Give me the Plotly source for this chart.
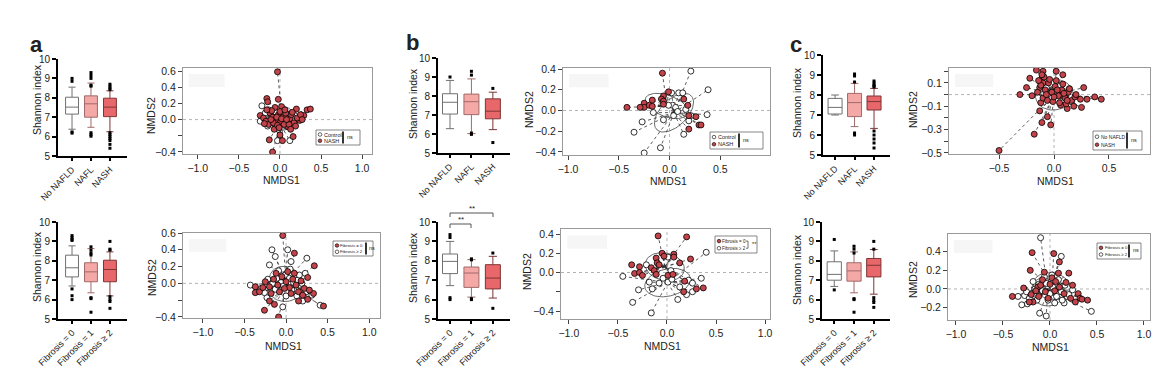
import numpy as np
import plotly.graph_objects as go

W, H = 1176, 367
FONT = "Liberation Sans, Arial, sans-serif"


def px(x):
    return x / W


def py(y):
    return 1 - y / H


# ---------------- DATA ----------------
labels_nafld = ["No NAFLD", "NAFL", "NASH"]
labels_fib = ["Fibrosis = 0", "Fibrosis = 1", "Fibrosis ≥ 2"]

# box statistics (Shannon index)  [group0, group1, group2]
a_top_q1 = [7.16, 7.00, 7.03]
a_top_med = [7.52, 7.69, 7.52]
a_top_q3 = [8.03, 8.10, 7.98]
a_top_lo = [6.38, 6.48, 6.25]
a_top_hi = [8.55, 8.76, 8.36]
a_top_out = [[9.0, 8.85, 6.24, 6.18],
             [9.3, 9.15, 9.0, 8.65, 8.6, 6.2, 6.1, 6.02],
             [8.7, 8.6, 8.5, 8.42, 6.2, 6.1, 6.0, 5.9, 5.8, 5.6, 5.4]]

a_bot_q1 = [7.17, 6.92, 6.92]
a_bot_med = [7.64, 7.43, 7.55]
a_bot_q3 = [8.29, 7.90, 8.03]
a_bot_lo = [6.70, 6.35, 6.19]
a_bot_hi = [8.77, 8.63, 8.46]
a_bot_out = [[9.3, 9.2, 9.1, 9.05, 6.55, 6.2, 6.0],
             [8.72, 8.55, 8.4, 8.3, 6.1, 6.05, 5.35],
             [9.0, 8.6, 8.55, 6.15, 6.0, 5.9, 5.55]]

b_top_q1 = [7.05, 7.02, 6.80]
b_top_med = [7.67, 7.70, 7.20]
b_top_q3 = [8.12, 8.10, 7.85]
b_top_lo = [6.28, 6.02, 6.23]
b_top_hi = [8.82, 8.90, 8.20]
b_top_out = [[9.0], [9.3, 9.1, 5.98, 6.05], [8.4, 5.55]]

b_bot_q1 = [7.34, 6.63, 6.55]
b_bot_med = [7.97, 7.37, 7.11]
b_bot_q3 = [8.35, 7.68, 7.80]
b_bot_lo = [6.72, 6.13, 6.08]
b_bot_hi = [9.00, 8.06, 8.23]
b_bot_out = [[9.35, 9.2, 6.1, 6.0], [8.1, 8.05, 6.05, 6.0], [8.4, 5.55]]

c_top_q1 = [7.05, 6.92, 7.25]
c_top_med = [7.38, 7.62, 7.67]
c_top_q3 = [7.83, 8.08, 7.95]
c_top_lo = [7.00, 6.42, 6.33]
c_top_hi = [8.00, 8.58, 8.33]
c_top_out = [[], [9.05, 8.95, 8.65, 6.1, 6.0],
             [8.7, 8.6, 8.5, 8.45, 8.4, 6.2, 6.0, 5.8, 5.6, 5.35]]

c_bot_q1 = [7.00, 6.95, 7.17]
c_bot_med = [7.30, 7.48, 7.77]
c_bot_q3 = [7.95, 7.90, 8.12]
c_bot_lo = [6.68, 6.35, 6.28]
c_bot_hi = [8.51, 8.46, 8.58]
c_bot_out = [[9.1, 6.5], [8.75, 8.6, 8.4, 6.05, 6.0, 5.35],
             [9.0, 8.6, 6.1, 5.95, 5.85, 5.6]]

# NMDS ordinations (open = first legend group, filled = second)
a_top_ctrl_x = [-0.22, -0.14, -0.24, 0.12, -0.03, -0.18, -0.10, -0.05, 0.05, 0.10, 0.15, -0.12, -0.06, 0.02, 0.08, -0.15, 0.18, 0.00, -0.02, 0.12]
a_top_ctrl_y = [0.17, 0.12, -0.02, -0.26, -0.26, 0.08, 0.05, 0.09, 0.06, 0.03, 0.00, -0.03, -0.06, -0.04, -0.08, -0.08, 0.05, 0.02, -0.12, 0.07]
a_top_nash_x = [-0.03, -0.02, -0.16, -0.15, -0.06, 0.02, 0.20, 0.33, 0.37, 0.29, 0.24, -0.24, 0.10, -0.07, 0.00, 0.16, -0.13, 0.03, -0.09,
                -0.20, -0.17, -0.12, -0.09, -0.05, -0.02, 0.01, 0.04, 0.07, 0.09, 0.12, 0.14, 0.17, 0.21, 0.25, -0.14, -0.08, -0.03,
                0.05, 0.11, -0.19, -0.10, 0.00, 0.06, 0.15, -0.04, 0.02, 0.08, -0.11, 0.19, -0.01, 0.27, 0.13, -0.16]
a_top_nash_y = [0.59, 0.25, 0.26, 0.22, 0.15, 0.16, 0.13, 0.12, 0.13, 0.05, -0.01, 0.05, -0.09, -0.12, -0.19, -0.21, -0.25, -0.26, -0.40,
                0.02, -0.02, 0.08, 0.03, 0.00, 0.06, -0.02, 0.03, 0.08, -0.03, 0.01, 0.06, -0.04, 0.02, 0.06, -0.06, -0.04, -0.07,
                -0.06, -0.06, -0.05, 0.11, 0.10, 0.12, 0.09, 0.03, 0.01, 0.00, 0.00, -0.08, -0.10, 0.00, -0.12, 0.12]

a_bot_f0_x = [-0.04, 0.10, 0.34, 0.26, -0.37, -0.37, -0.32, -0.20, -0.14, -0.26, -0.09, 0.15, 0.26, 0.33, 0.45,
              -0.25, -0.20, -0.15, -0.10, -0.05, 0.00, 0.04, 0.08, 0.12, 0.18, 0.22, -0.12, 0.02, -0.28, 0.15, -0.08,
              0.06, 0.20, -0.18, 0.28, 0.10, -0.02]
a_bot_f0_y = [0.57, 0.36, 0.21, 0.07, -0.04, -0.11, -0.10, -0.21, -0.25, -0.32, -0.40, -0.21, -0.19, -0.12, -0.27,
              0.02, -0.04, 0.05, -0.02, 0.08, 0.02, -0.05, 0.05, -0.02, 0.03, -0.06, 0.12, 0.14, -0.05, -0.10, -0.10,
              -0.12, -0.14, -0.12, -0.08, 0.12, -0.06]
a_bot_f2_x = [0.02, -0.17, -0.13, 0.25, -0.20, 0.06, 0.23, -0.43, -0.23, -0.26, -0.04, 0.31, 0.41, 0.20,
              -0.22, -0.16, -0.11, -0.06, -0.01, 0.04, 0.09, 0.14, 0.19, -0.30, -0.13, -0.03, 0.07, 0.13, 0.24,
              -0.09, 0.05, 0.16, -0.24, 0.00]
a_bot_f2_y = [0.40, 0.40, 0.32, 0.30, 0.22, 0.26, 0.12, -0.02, -0.17, -0.11, -0.28, -0.14, -0.26, -0.21,
              0.05, 0.00, 0.06, 0.01, 0.10, 0.06, 0.01, 0.04, 0.00, -0.06, -0.07, -0.03, -0.08, -0.15, -0.10,
              0.15, 0.17, 0.10, -0.01, -0.15]

b_top_ctrl_x = [0.21, 0.38, 0.37, 0.09, 0.02, 0.03, 0.13, -0.27, -0.35, -0.06, 0.14, -0.09, -0.25, 0.19, 0.06, -0.16, -0.01, 0.21, 0.04, 0.08, 0.16]
b_top_ctrl_y = [0.38, 0.20, -0.04, 0.17, 0.17, 0.05, 0.17, -0.11, -0.21, -0.09, -0.23, -0.36, -0.41, -0.10, 0.03, -0.02, 0.05, -0.05, -0.05, -0.01, 0.01]
b_top_nash_x = [-0.07, -0.01, -0.06, -0.08, -0.06, 0.14, 0.18, -0.17, -0.25, -0.25, -0.29, -0.42, -0.20, -0.06, 0.19, 0.26, 0.29, 0.31, 0.19, -0.17]
b_top_nash_y = [0.36, 0.18, 0.14, 0.11, 0.09, 0.11, 0.05, 0.10, 0.07, 0.03, 0.03, 0.03, 0.05, 0.06, -0.05, -0.06, -0.14, -0.14, -0.18, 0.04]

b_bot_f0_x = [-0.09, 0.20, -0.05, -0.03, 0.07, 0.07, 0.13, 0.24, -0.11, -0.10, -0.08, -0.16, -0.13, -0.36, -0.28, -0.33, -0.28, -0.25, -0.11, 0.01, 0.06, 0.18, 0.17, 0.30, 0.37]
b_bot_f0_y = [0.38, 0.37, 0.20, 0.17, 0.19, 0.16, 0.10, 0.14, 0.15, 0.10, 0.08, 0.05, 0.02, 0.08, 0.06, -0.01, 0.00, -0.03, -0.02, -0.03, -0.02, -0.09, -0.20, -0.17, -0.16]
b_bot_f2_x = [0.40, 0.35, 0.26, 0.11, -0.16, -0.35, -0.29, -0.45, -0.15, -0.08, 0.01, 0.05, 0.22, 0.26, 0.20, 0.01, -0.21, 0.04, -0.04, -0.18, 0.13]
b_bot_f2_y = [0.21, -0.06, -0.20, -0.28, -0.42, -0.31, -0.18, -0.04, -0.17, -0.11, -0.10, -0.07, -0.08, -0.11, -0.23, 0.16, 0.08, 0.02, -0.06, -0.10, -0.15]

c_top_ctrl_x = [-0.07, 0.02, 0.14, -0.02, 0.05, 0.16]
c_top_ctrl_y = [0.06, 0.03, 0.05, -0.03, 0.07, -0.06]
c_top_nash_x = [-0.16, -0.10, 0.02, -0.22, -0.11, 0.08, -0.10, -0.25, -0.31, -0.13, 0.27, 0.37, 0.43, 0.30, 0.24, 0.25, 0.18, 0.12,
                0.06, -0.12, -0.13, -0.06, -0.11, -0.03, -0.18, -0.50, -0.20,
                -0.12, -0.08, -0.05, -0.02, 0.01, 0.04, 0.07, 0.10, 0.13, 0.16, 0.19, -0.10, -0.06, -0.01, 0.05, 0.11, -0.14,
                -0.09, -0.04, 0.02, 0.08, 0.14, 0.20, -0.15, -0.07, 0.00, 0.03, 0.09, 0.12, -0.11]
c_top_nash_y = [0.21, 0.20, 0.20, 0.14, 0.14, 0.17, 0.10, 0.06, 0.00, 0.06, 0.06, -0.02, -0.04, -0.04, -0.04, -0.11, -0.10, -0.12,
                -0.09, -0.07, -0.14, -0.19, -0.24, -0.26, -0.34, -0.48, -0.01,
                0.08, 0.04, 0.10, 0.02, 0.07, -0.01, 0.04, -0.03, 0.02, -0.05, -0.02, -0.03, -0.05, -0.06, -0.07, -0.08, 0.12,
                0.15, 0.13, 0.12, 0.09, 0.05, 0.00, 0.02, 0.00, -0.02, 0.04, 0.01, -0.05, 0.17]

c_bot_f0_x = [-0.19, 0.04, 0.10, -0.21, -0.06, 0.09, 0.20, 0.02, 0.17, 0.24, -0.28, -0.13, -0.40, -0.20, -0.18, -0.22, 0.30, 0.32, 0.34, 0.40, 0.27, 0.22, -0.02,
              -0.15, -0.10, -0.05, 0.00, 0.05, 0.10, 0.15, -0.12, 0.06, -0.08]
c_bot_f0_y = [0.39, 0.38, 0.29, 0.20, 0.18, 0.17, 0.17, 0.12, 0.07, 0.04, 0.01, 0.02, -0.08, -0.06, -0.14, -0.14, -0.05, -0.10, -0.11, -0.12, -0.14, -0.10, -0.10,
              -0.02, 0.04, -0.03, 0.05, -0.02, 0.02, -0.05, -0.08, 0.08, 0.10]
c_bot_f2_x = [-0.10, 0.12, -0.30, -0.24, -0.11, -0.04, 0.44, 0.15, -0.34, -0.27, -0.07, 0.11, 0.18,
              -0.20, -0.16, -0.12, -0.08, -0.04, 0.00, 0.03, 0.07, 0.12, 0.16, 0.20, -0.22, -0.14, -0.02, 0.09, -0.06, 0.02, 0.24, -0.18, 0.13, -0.25, 0.05]
c_bot_f2_y = [0.55, 0.35, -0.17, -0.16, -0.26, -0.29, -0.24, -0.15, -0.08, -0.07, 0.08, 0.03, -0.08,
              -0.05, 0.00, 0.05, -0.02, 0.06, -0.05, 0.02, -0.08, -0.03, 0.04, -0.06, -0.10, -0.12, -0.12, 0.10, 0.13, 0.15, -0.01, 0.08, -0.12, -0.03, -0.15]

# ---------------- STYLE ----------------
BOX_FILL = ["#ffffff", "#f4a9a6", "#e8676b"]
BOX_LINE = ["#707070", "#a06a6a", "#7e3434"]
RED = "#c2444a"

fig = go.Figure()
layout = dict(
    template="none",
    width=W, height=H, margin=dict(l=0, r=0, t=0, b=0, pad=0, autoexpand=False),
    paper_bgcolor="white", plot_bgcolor="white", showlegend=False,
    font=dict(family=FONT, size=10, color="#222"),
)
annotations = []
shapes = []


def add_box_panel(idx, dom, xr, bw, labels, q1, med, q3, lo, hi, outs):
    xa, ya = f"x{idx}", f"y{idx}"
    for g in range(3):
        fig.add_trace(go.Box(
            x=[g], q1=[q1[g]], median=[med[g]], q3=[q3[g]],
            lowerfence=[lo[g]], upperfence=[hi[g]],
            width=bw, whiskerwidth=0.55, fillcolor=BOX_FILL[g],
            line=dict(color=BOX_LINE[g], width=1), boxpoints=False,
            xaxis=xa, yaxis=ya, hoverinfo="skip"))
        if outs[g]:
            fig.add_trace(go.Scatter(
                x=[g] * len(outs[g]), y=outs[g], mode="markers",
                marker=dict(symbol="square", size=3, color="black", line=dict(width=0)),
                xaxis=xa, yaxis=ya, hoverinfo="skip"))
    x0, x1, y0, y1 = dom
    layout[f"xaxis{idx}"] = dict(
        domain=[px(x0), px(x1)], range=xr, anchor=ya, automargin=False,
        tickvals=[0, 1, 2], ticktext=labels, tickangle=-45,
        showline=True, linewidth=2, linecolor="black",
        ticks="outside", ticklen=3, tickwidth=1.5, tickcolor="black",
        tickfont=dict(size=9, color="#222"),
        showgrid=False, zeroline=False)
    layout[f"yaxis{idx}"] = dict(
        domain=[py(y1), py(y0)], range=[5, 10], anchor=xa, automargin=False,
        tickvals=[5, 6, 7, 8, 9, 10],
        showline=True, linewidth=2, linecolor="black",
        ticks="outside", ticklen=4, tickwidth=1.5, tickcolor="black",
        tickfont=dict(size=10, color="#222"),
        showgrid=False, zeroline=False)


def sd_ellipse(x, y, n=80):
    x = np.asarray(x); y = np.asarray(y)
    c = np.array([x.mean(), y.mean()])
    cov = np.cov(np.vstack([x, y]))
    vals, vecs = np.linalg.eigh(cov)
    t = np.linspace(0, 2 * np.pi, n)
    circ = np.vstack([np.cos(t), np.sin(t)]) * np.sqrt(vals)[:, None]
    pts = vecs @ circ + c[:, None]
    return pts[0], pts[1]


def spider(x, y):
    cx, cy = float(np.mean(x)), float(np.mean(y))
    sx, sy = [], []
    for a, b in zip(x, y):
        sx += [cx, a, None]
        sy += [cy, b, None]
    return sx, sy


def add_nmds_panel(idx, dom, xr, yr, xt, xtl, yt, ytl, groups):
    xa, ya = f"x{idx}", f"y{idx}"
    shapes.append(dict(type="line", xref=xa, yref=f"{ya} domain", x0=0, x1=0, y0=0, y1=1,
                       line=dict(color="#a0a0a0", width=0.8, dash="dot"), layer="below"))
    shapes.append(dict(type="line", xref=f"{xa} domain", yref=ya, x0=0, x1=1, y0=0, y1=0,
                       line=dict(color="#a0a0a0", width=0.8, dash="dot"), layer="below"))
    # faint artefact rectangle seen in the top-left corner
    shapes.append(dict(type="rect", xref=f"{xa} domain", yref=f"{ya} domain",
                       x0=0.03, x1=0.22, y0=0.78, y1=0.93,
                       fillcolor="#f6f6f6", line=dict(width=0), layer="below"))
    for gx, gy, filled in groups:
        sx, sy = spider(gx, gy)
        fig.add_trace(go.Scatter(x=sx, y=sy, mode="lines",
                                 line=dict(color="#333", width=0.8, dash="dot"),
                                 xaxis=xa, yaxis=ya, hoverinfo="skip"))
    for gx, gy, filled in groups:
        ex, ey = sd_ellipse(gx, gy)
        fig.add_trace(go.Scatter(x=ex, y=ey, mode="lines",
                                 line=dict(color="#444", width=0.8),
                                 xaxis=xa, yaxis=ya, hoverinfo="skip"))
    for gx, gy, filled in groups:
        fig.add_trace(go.Scatter(
            x=gx, y=gy, mode="markers",
            marker=dict(size=6, color=RED if filled else "white",
                        line=dict(color="black", width=0.8)),
            xaxis=xa, yaxis=ya, hoverinfo="skip"))
    x0, x1, y0, y1 = dom
    layout[f"xaxis{idx}"] = dict(
        domain=[px(x0), px(x1)], range=xr, anchor=ya, automargin=False,
        tickvals=xt, ticktext=xtl,
        showline=True, mirror=True, linewidth=1, linecolor="#9a9a9a",
        ticks="outside", ticklen=4, tickwidth=1, tickcolor="#444",
        tickfont=dict(size=10.5, color="#222"),
        showgrid=False, zeroline=False)
    layout[f"yaxis{idx}"] = dict(
        domain=[py(y1), py(y0)], range=yr, anchor=xa, automargin=False,
        tickvals=yt, ticktext=ytl,
        showline=True, mirror=True, linewidth=1, linecolor="#9a9a9a",
        ticks="outside", ticklen=4, tickwidth=1, tickcolor="#444",
        tickfont=dict(size=10.5, color="#222"),
        showgrid=False, zeroline=False)


def text(x, y, s, size=10, angle=0, bold=False, xanchor="center", color="#222"):
    annotations.append(dict(
        x=px(x), y=py(y), xref="paper", yref="paper", text=f"<b>{s}</b>" if bold else s,
        showarrow=False, textangle=angle, xanchor=xanchor, yanchor="middle",
        borderpad=0, font=dict(size=size, color=color, family=FONT)))


def legend(box, labels, fills, sig, bx, fsize, bar_kind="bar"):
    x0, y0, x1, y1 = box
    shapes.append(dict(type="rect", xref="paper", yref="paper",
                       x0=px(x0), x1=px(x1), y0=py(y1), y1=py(y0),
                       line=dict(color="#555", width=0.7), fillcolor="white"))
    h = (y1 - y0)
    rows = [y0 + h * 0.3, y0 + h * 0.72]
    r = 1.8
    for yy, lab, f in zip(rows, labels, fills):
        shapes.append(dict(type="circle", xref="paper", yref="paper",
                           x0=px(x0 + 4 - r), x1=px(x0 + 4 + r),
                           y0=py(yy + r), y1=py(yy - r),
                           fillcolor=RED if f else "white",
                           line=dict(color="black", width=0.6)))
        text(x0 + 6.5, yy, lab, size=fsize, xanchor="left")
    if bar_kind == "bar":
        shapes.append(dict(type="line", xref="paper", yref="paper",
                           x0=px(bx), x1=px(bx), y0=py(y0 + 1.5), y1=py(y1 - 1.5),
                           line=dict(color="black", width=1.6)))
    else:
        shapes.append(dict(type="path", xref="paper", yref="paper",
                           path=f"M {px(bx-2)} {py(rows[0])} L {px(bx)} {py(rows[0])} L {px(bx)} {py(rows[1])} L {px(bx-2)} {py(rows[1])}",
                           line=dict(color="#333", width=0.7)))
    text(bx + 2.5, (y0 + y1) / 2 - 1, sig, size=5.5, xanchor="left")


# ---------------- PANELS ----------------
add_box_panel(1, (58, 127, 59, 156), [-0.74, 2.9], 0.68, labels_nafld,
              a_top_q1, a_top_med, a_top_q3, a_top_lo, a_top_hi, a_top_out)
add_box_panel(3, (58, 127, 222, 319), [-0.74, 2.9], 0.68, labels_fib,
              a_bot_q1, a_bot_med, a_bot_q3, a_bot_lo, a_bot_hi, a_bot_out)
add_box_panel(5, (438, 510, 58, 153), [-0.56, 2.8], 0.7, labels_nafld,
              b_top_q1, b_top_med, b_top_q3, b_top_lo, b_top_hi, b_top_out)
add_box_panel(7, (438, 510, 222, 319), [-0.56, 2.8], 0.7, labels_fib,
              b_bot_q1, b_bot_med, b_bot_q3, b_bot_lo, b_bot_hi, b_bot_out)
add_box_panel(9, (823, 890, 55, 155), [-0.62, 2.82], 0.72, labels_nafld,
              c_top_q1, c_top_med, c_top_q3, c_top_lo, c_top_hi, c_top_out)
add_box_panel(11, (822, 890, 222, 319), [-0.62, 2.82], 0.72, labels_fib,
              c_bot_q1, c_bot_med, c_bot_q3, c_bot_lo, c_bot_hi, c_bot_out)

X2 = [-1.0, -0.5, 0.0, 0.5, 1.0]
X2L = ["−1.0", "−0.5", "0.0", "0.5", "1.0"]
add_nmds_panel(2, (183, 372, 68, 154), [-1.18, 1.12], [-0.425, 0.637], X2, X2L,
               [-0.4, -0.2, 0.0, 0.2, 0.4, 0.6], ["−0.4", "", "0.0", "0.2", "0.4", "0.6"],
               [(a_top_ctrl_x, a_top_ctrl_y, False), (a_top_nash_x, a_top_nash_y, True)])
add_nmds_panel(4, (183, 380, 233, 318), [-1.24, 1.13], [-0.412, 0.6], X2, X2L,
               [-0.4, -0.2, 0.0, 0.2, 0.4, 0.6], ["−0.4", "", "0.0", "0.2", "0.4", "0.6"],
               [(a_bot_f2_x, a_bot_f2_y, False), (a_bot_f0_x, a_bot_f0_y, True)])
add_nmds_panel(6, (563, 770, 68, 155), [-1.05, 0.99], [-0.43, 0.41],
               [-1.0, -0.5, 0.0, 0.5], ["−1.0", "−0.5", "0.0", "0.5"],
               [-0.4, -0.2, 0.0, 0.2, 0.4], ["−0.4", "−0.2", "0.0", "0.2", "0.4"],
               [(b_top_ctrl_x, b_top_ctrl_y, False), (b_top_nash_x, b_top_nash_y, True)])
add_nmds_panel(8, (561, 770, 229, 319), [-1.08, 1.05], [-0.483, 0.452], X2, X2L,
               [-0.4, -0.2, 0.0, 0.2, 0.4], ["−0.4", "", "0.0", "0.2", "0.4"],
               [(b_bot_f2_x, b_bot_f2_y, False), (b_bot_f0_x, b_bot_f0_y, True)])
add_nmds_panel(10, (949, 1150, 68, 154), [-0.955, 0.873], [-0.51, 0.228],
               [-0.5, 0.0, 0.5], ["−0.5", "0.0", "0.5"],
               [-0.5, -0.4, -0.3, -0.2, -0.1, 0.0, 0.1, 0.2],
               ["−0.5", "", "−0.3", "", "−0.1", "", "0.1", ""],
               [(c_top_ctrl_x, c_top_ctrl_y, False), (c_top_nash_x, c_top_nash_y, True)])
add_nmds_panel(12, (948, 1150, 234, 320), [-1.085, 1.064], [-0.333, 0.59], X2, X2L,
               [-0.2, 0.0, 0.2, 0.4], ["−0.2", "0.0", "0.2", "0.4"],
               [(c_bot_f2_x, c_bot_f2_y, False), (c_bot_f0_x, c_bot_f0_y, True)])

# axis titles
for (x, y) in [(37, 100), (37, 267), (413, 103), (413, 267), (797, 103), (797, 270)]:
    text(x, y, "Shannon index", size=10.5, angle=-90)
for (x, y) in [(151, 116), (152, 278), (529, 110), (527, 272), (913, 110), (913, 280)]:
    text(x, y, "NMDS2", size=10.5, angle=-90)
for (x, y) in [(281, 180), (283, 346), (668, 181), (662, 346), (1055, 181), (1050, 347)]:
    text(x, y, "NMDS1", size=10.5)

# panel letters
text(36, 44, "a", size=22, bold=True)
text(412, 43, "b", size=22, bold=True)
text(796, 44, "c", size=22, bold=True)

# legends inside ordinations
legend((316, 130, 360, 145), ["Control", "NASH"], [False, True], "ns", 343, 5.5)
legend((333, 241, 373, 256), ["Fibrosis = 0", "Fibrosis ≥ 2"], [True, False], "ns", 366, 4.3)
legend((710, 132, 763, 149), ["Control", "NASH"], [False, True], "ns", 739, 5.5)
legend((715, 236, 757, 253), ["Fibrosis = 0", "Fibrosis ≥ 2"], [True, False], "**", 748, 4.5, bar_kind="bracket")
legend((1093, 131, 1142, 150), ["No NAFLD", "NASH"], [False, True], "ns", 1127, 5)
legend((1097, 243, 1141, 259), ["Fibrosis = 0", "Fibrosis ≥ 2"], [True, False], "ns", 1129, 4.3)

# significance brackets on panel b bottom box plot
for (xa_, xb_, yy, lab) in [(450, 471, 224, "**"), (450, 493, 213, "**")]:
    shapes.append(dict(type="path", xref="paper", yref="paper",
                       path=f"M {px(xa_)} {py(yy+4)} L {px(xa_)} {py(yy)} L {px(xb_)} {py(yy)} L {px(xb_)} {py(yy+4)}",
                       line=dict(color="#555", width=1)))
    text((xa_ + xb_) / 2, yy - 5, lab, size=8)

layout["annotations"] = annotations
layout["shapes"] = shapes
fig.update_layout(**layout)
fig.write_html("out.html", config={"displayModeBar": False},
               post_script="document.body.style.margin='0';document.body.style.overflow='hidden';")
